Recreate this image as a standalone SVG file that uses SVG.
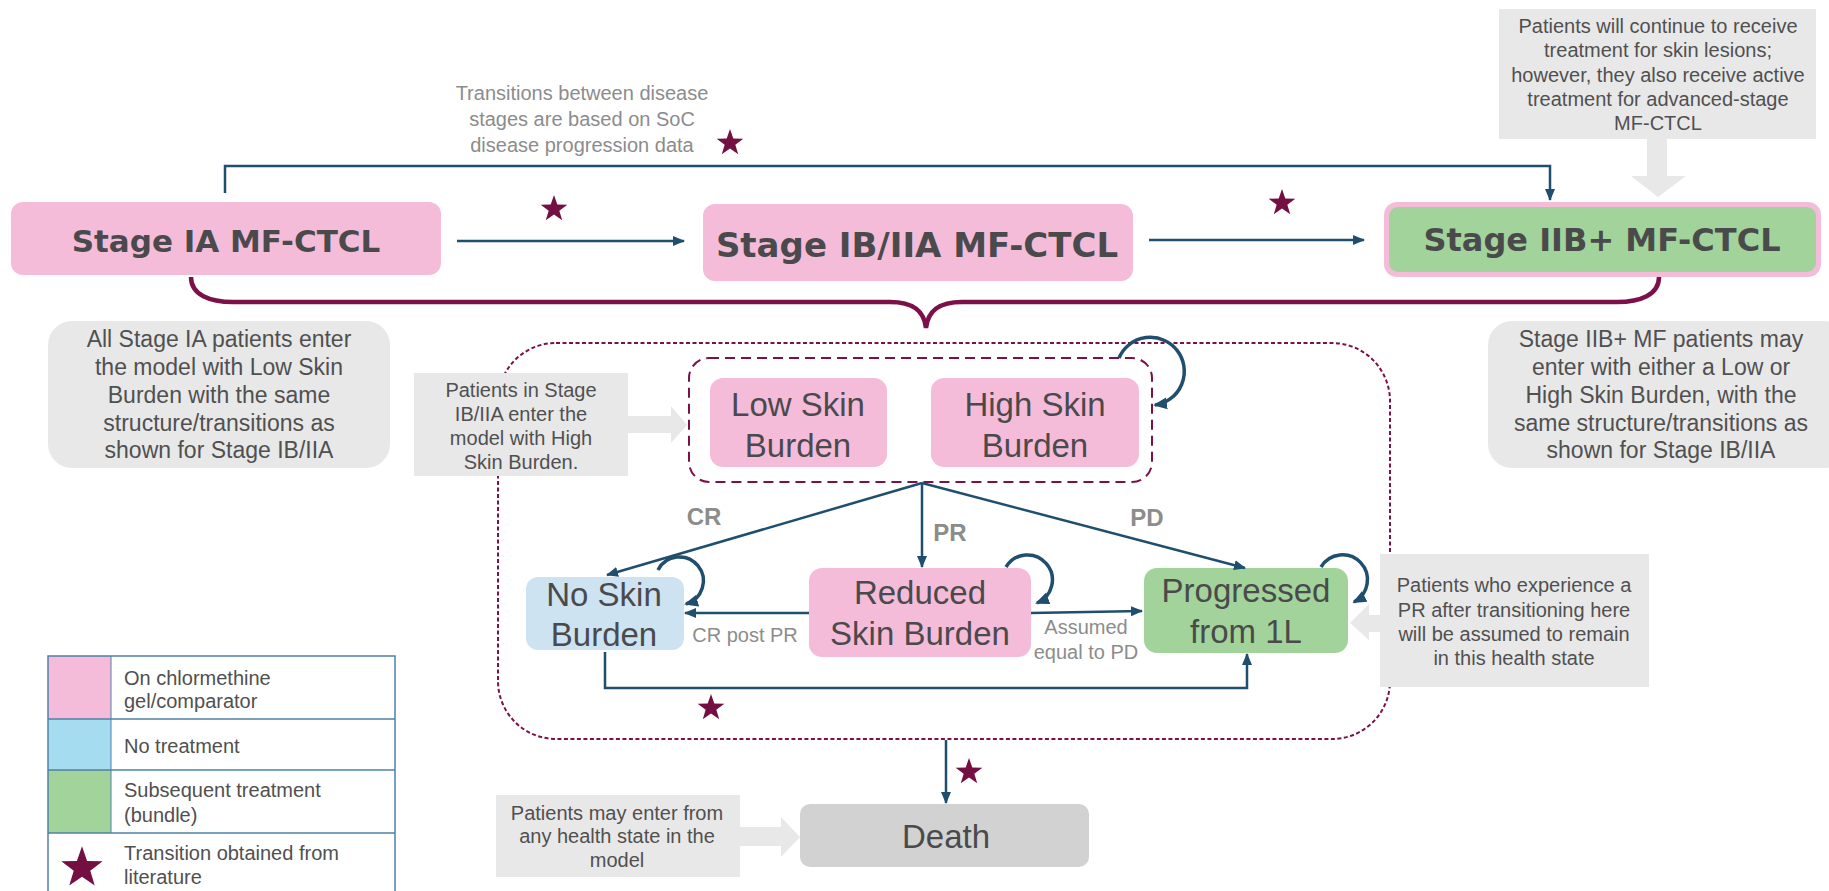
<svg xmlns="http://www.w3.org/2000/svg" width="1829" height="891" viewBox="0 0 1829 891">
<style>
.pink{fill:#f5bcd9}
.green{fill:#a2d39b}
.note{fill:#e8e8e8}
.nt{font-family:"Liberation Sans",Arial,sans-serif;font-size:20px;fill:#505050;text-anchor:middle}
.nt23{font-family:"Liberation Sans",Arial,sans-serif;font-size:23px;fill:#505050;text-anchor:middle}
.gt{font-family:"Liberation Sans",Arial,sans-serif;font-size:20px;fill:#8c8c8c;text-anchor:middle}
.hd{font-family:"DejaVu Sans",Verdana,sans-serif;font-weight:bold;fill:#4a4a4c;text-anchor:middle}
.node{font-family:"Liberation Sans",Arial,sans-serif;font-size:33px;fill:#4a4a4c;text-anchor:middle}
.lbl{font-family:"Liberation Sans",Arial,sans-serif;font-size:24px;font-weight:bold;fill:#8c8c8c;text-anchor:middle}
.lg{font-family:"Liberation Sans",Arial,sans-serif;font-size:20px;fill:#505050}
.con{fill:none;stroke:#1f4e6e;stroke-width:2.5}
.loop{fill:none;stroke:#1f4e6e;stroke-width:3.5}
.star{fill:#730f42}
</style>
<defs>
<marker id="ah" markerUnits="userSpaceOnUse" markerWidth="12" markerHeight="12" refX="11" refY="6" orient="auto">
<path d="M0,1 L12,6 L0,11 z" fill="#1f4e6e"/>
</marker>
<marker id="ahl" markerUnits="userSpaceOnUse" markerWidth="14" markerHeight="14" refX="12" refY="7" orient="auto">
<path d="M0,1 L14,7 L0,13 z" fill="#1f4e6e"/>
</marker>
<polygon id="st" points="0,-14 3.29,-4.53 13.31,-4.33 5.33,1.73 8.23,11.33 0,5.6 -8.23,11.33 -5.33,1.73 -13.31,-4.33 -3.29,-4.53"/>
</defs>

<!-- containers -->
<g id="outer-box">
<rect x="498" y="343" width="892" height="396" rx="58" fill="none" stroke="#7b1148" stroke-width="2" stroke-dasharray="4 2.5"/>
</g>
<g id="entry-box">
<rect x="689" y="358" width="463" height="124" rx="20" fill="none" stroke="#7b1148" stroke-width="2" stroke-dasharray="10 6"/>
</g>

<!-- brace -->
<g id="brace">
<path d="M191,277 C191,295 210,302 233,302 L890,302 C912,302 924,310 926,328 C928,310 940,302 962,302 L1617,302 C1640,302 1659,295 1659,277" fill="none" stroke="#7b1148" stroke-width="4.5"/>
</g>

<!-- stage nodes -->
<g id="stage-ia">
<rect class="pink" x="11" y="202" width="430" height="73" rx="12"/>
<text class="hd" x="226" y="252" font-size="31">Stage IA MF-CTCL</text>
</g>
<g id="stage-ib">
<rect class="pink" x="703" y="204" width="430" height="77" rx="12"/>
<text class="hd" x="917" y="257" font-size="34">Stage IB/IIA MF-CTCL</text>
</g>
<g id="stage-iib">
<rect class="pink" x="1384" y="202" width="437" height="75" rx="13"/>
<rect class="green" x="1389" y="207" width="427" height="65" rx="9"/>
<text class="hd" x="1602" y="251" font-size="32">Stage IIB+ MF-CTCL</text>
</g>

<!-- notes -->
<g id="note-top">
<rect class="note" x="1499" y="9" width="317" height="130"/>
<polygon class="note" points="1647,139 1667,139 1667,176 1686,176 1658,197 1631,176 1647,176"/>
<text class="nt" x="1658" y="33">Patients will continue to receive</text>
<text class="nt" x="1658" y="57">treatment for skin lesions;</text>
<text class="nt" x="1658" y="82">however, they also receive active</text>
<text class="nt" x="1658" y="106">treatment for advanced-stage</text>
<text class="nt" x="1658" y="130">MF-CTCL</text>
</g>
<g id="note-transitions">
<text class="gt" x="582" y="100" font-size="20.5">Transitions between disease</text>
<text class="gt" x="582" y="126" font-size="20.5">stages are based on SoC</text>
<text class="gt" x="582" y="152" font-size="20.5">disease progression data</text>
</g>
<g id="note-left">
<rect class="note" x="48" y="321" width="342" height="147" rx="24"/>
<text class="nt23" x="219" y="347">All Stage IA patients enter</text>
<text class="nt23" x="219" y="375">the model with Low Skin</text>
<text class="nt23" x="219" y="403">Burden with the same</text>
<text class="nt23" x="219" y="431">structure/transitions as</text>
<text class="nt23" x="219" y="458">shown for Stage IB/IIA</text>
</g>
<g id="note-right">
<rect class="note" x="1488" y="321" width="360" height="147" rx="24"/>
<text class="nt23" x="1661" y="347">Stage IIB+ MF patients may</text>
<text class="nt23" x="1661" y="375">enter with either a Low or</text>
<text class="nt23" x="1661" y="403">High Skin Burden, with the</text>
<text class="nt23" x="1661" y="431">same structure/transitions as</text>
<text class="nt23" x="1661" y="458">shown for Stage IB/IIA</text>
</g>
<g id="note-ib">
<rect class="note" x="414" y="373" width="214" height="103"/>
<polygon class="note" points="628,416 671,416 671,406 687,425 671,443 671,433 628,433"/>
<text class="nt" x="521" y="397">Patients in Stage</text>
<text class="nt" x="521" y="421">IB/IIA enter the</text>
<text class="nt" x="521" y="445">model with High</text>
<text class="nt" x="521" y="469">Skin Burden.</text>
</g>
<g id="note-pr">
<rect class="note" x="1380" y="554" width="269" height="133"/>
<polygon class="note" points="1380,615 1369,615 1369,604 1350,623 1369,640 1369,632 1380,632"/>
<text class="nt" x="1514" y="592">Patients who experience a</text>
<text class="nt" x="1514" y="617">PR after transitioning here</text>
<text class="nt" x="1514" y="641">will be assumed to remain</text>
<text class="nt" x="1514" y="665">in this health state</text>
</g>
<g id="note-death">
<rect class="note" x="496" y="795" width="244" height="82"/>
<polygon class="note" points="740,827 781,827 781,817 800,837 781,857 781,846 740,846"/>
<text class="nt" x="617" y="820">Patients may enter from</text>
<text class="nt" x="617" y="843">any health state in the</text>
<text class="nt" x="617" y="867">model</text>
</g>

<!-- health state nodes -->
<g id="low-skin">
<rect class="pink" x="710" y="378" width="177" height="89" rx="13"/>
<text class="node" x="798" y="416">Low Skin</text>
<text class="node" x="798" y="457">Burden</text>
</g>
<g id="high-skin">
<rect class="pink" x="931" y="378" width="208" height="89" rx="13"/>
<text class="node" x="1035" y="416">High Skin</text>
<text class="node" x="1035" y="457">Burden</text>
</g>
<g id="no-skin">
<rect x="526" y="577" width="158" height="73" rx="12" fill="#cde3f1"/>
<text class="node" x="604" y="606">No Skin</text>
<text class="node" x="604" y="646">Burden</text>
</g>
<g id="reduced">
<rect class="pink" x="809" y="568" width="222" height="89" rx="13"/>
<text class="node" x="920" y="604">Reduced</text>
<text class="node" x="920" y="645">Skin Burden</text>
</g>
<g id="progressed">
<rect class="green" x="1144" y="568" width="204" height="85" rx="13"/>
<text class="node" x="1246" y="602">Progressed</text>
<text class="node" x="1246" y="643">from 1L</text>
</g>
<g id="death">
<rect x="800" y="804" width="289" height="63" rx="10" fill="#d2d2d2"/>
<text class="node" x="946" y="848">Death</text>
</g>

<!-- connectors -->
<g id="connectors">
<line class="con" x1="457" y1="241" x2="684" y2="241" marker-end="url(#ah)"/>
<line class="con" x1="1149" y1="240" x2="1364" y2="240" marker-end="url(#ah)"/>
<path class="con" d="M225,193 V166 H1550 V200" marker-end="url(#ah)"/>
<line class="con" x1="922" y1="483" x2="607" y2="575" marker-end="url(#ah)"/>
<line class="con" x1="922" y1="483" x2="922" y2="567" marker-end="url(#ah)"/>
<line class="con" x1="922" y1="483" x2="1245" y2="568" marker-end="url(#ah)"/>
<line class="con" x1="809" y1="613" x2="685" y2="613" marker-end="url(#ah)"/>
<line class="con" x1="1031" y1="613" x2="1142" y2="611" marker-end="url(#ah)"/>
<path class="con" d="M605,652 V688 H1247 V654" marker-end="url(#ah)"/>
<line class="con" x1="946" y1="740" x2="946" y2="803" marker-end="url(#ah)"/>
<path class="loop" d="M1119,358 A34,34 0 1 1 1155,405" marker-end="url(#ahl)"/>
<path class="loop" d="M1006,567 A25,25 0 1 1 1037,603" marker-end="url(#ahl)"/>
<path class="loop" d="M658,570 A24,24 0 1 1 686,604" marker-end="url(#ahl)"/>
<path class="loop" d="M1321,567 A25,25 0 1 1 1354,602" marker-end="url(#ahl)"/>
<text class="lbl" x="704" y="525">CR</text>
<text class="lbl" x="950" y="541">PR</text>
<text class="lbl" x="1147" y="526">PD</text>
<text class="gt" x="745" y="642">CR post PR</text>
<text class="gt" x="1086" y="634">Assumed</text>
<text class="gt" x="1086" y="659">equal to PD</text>
</g>

<!-- stars -->
<g id="stars" class="star">
<use href="#st" x="730" y="143"/>
<use href="#st" x="554" y="209"/>
<use href="#st" x="1282" y="203"/>
<use href="#st" x="711" y="708"/>
<use href="#st" x="969" y="772"/>
</g>

<!-- legend -->
<g id="legend">
<rect x="48" y="656" width="63" height="63" class="pink"/>
<rect x="48" y="719" width="63" height="51" fill="#a6dcef"/>
<rect x="48" y="770" width="63" height="63" class="green"/>
<rect x="48" y="656" width="347" height="245" fill="none" stroke="#4f81a6" stroke-width="1.5"/>
<line x1="48" y1="719" x2="395" y2="719" stroke="#4f81a6" stroke-width="1.5"/>
<line x1="48" y1="770" x2="395" y2="770" stroke="#4f81a6" stroke-width="1.5"/>
<line x1="48" y1="833" x2="395" y2="833" stroke="#4f81a6" stroke-width="1.5"/>
<line x1="111" y1="656" x2="111" y2="833" stroke="#4f81a6" stroke-width="1"/>
<use href="#st" class="star" transform="translate(82,868) scale(1.55)"/>
<text class="lg" x="124" y="685">On chlormethine</text>
<text class="lg" x="124" y="708">gel/comparator</text>
<text class="lg" x="124" y="753">No treatment</text>
<text class="lg" x="124" y="797">Subsequent treatment</text>
<text class="lg" x="124" y="822">(bundle)</text>
<text class="lg" x="124" y="860">Transition obtained from</text>
<text class="lg" x="124" y="884">literature</text>
</g>
</svg>
